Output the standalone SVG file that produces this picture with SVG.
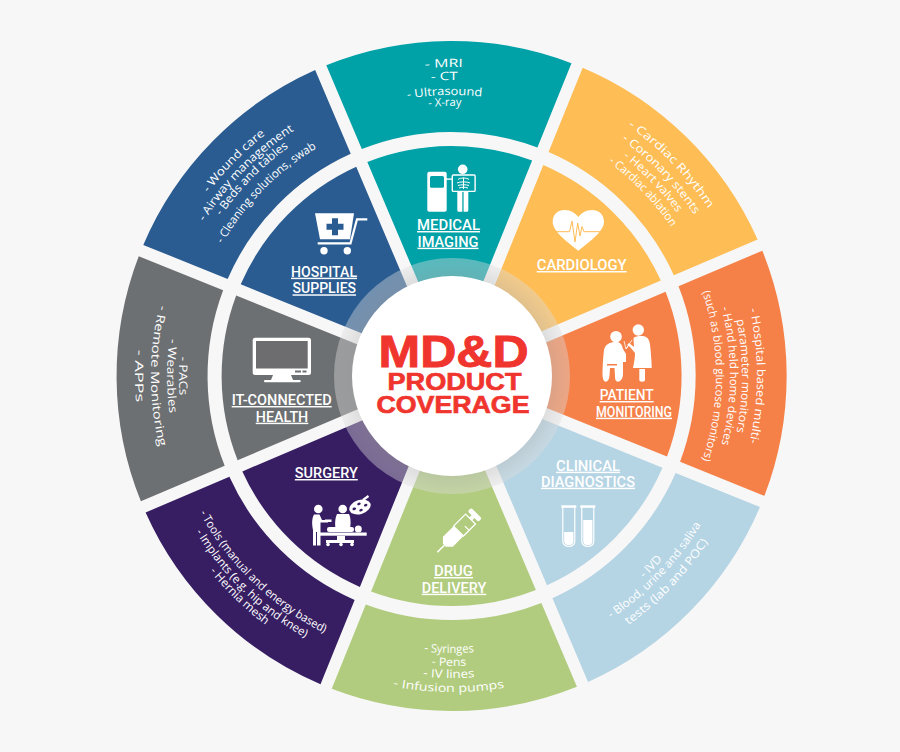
<svg xmlns="http://www.w3.org/2000/svg" width="900" height="752" viewBox="0 0 900 752">
<style>
.o{font-family:"Open Sans","Noto Sans",sans-serif;font-size:11.5px;fill:#fff;text-anchor:middle}
.t{font-family:"Roboto","Liberation Sans",sans-serif;font-weight:500;font-size:14.5px;fill:#fff;text-anchor:middle;text-decoration:underline;text-decoration-color:rgba(255,255,255,.65);text-decoration-thickness:1.6px;text-underline-offset:2px}
.c{font-family:"Liberation Sans",Arial,sans-serif;font-weight:700;fill:#f0352e;stroke:#f0352e;text-anchor:middle}
.w{fill:#fff}
</style>
<defs>
<path id="ow" d="M-122.6,-311.8A335,335 0 0 1 122.6,-311.8L87.8,-227.7A244,244 0 0 0 -87.8,-227.7Z"/>
<path id="iw" d="M-82.4,-214.7A230,230 0 0 1 82.4,-214.7L30.7,-89.9A95,95 0 0 0 -30.7,-89.9Z"/>
<radialGradient id="rg" gradientUnits="userSpaceOnUse" cx="452" cy="376" r="118">
<stop offset=".84" stop-color="#c2c2c2" stop-opacity=".5"/>
<stop offset="1" stop-color="#dedede" stop-opacity=".4"/>
</radialGradient>
<path id="a309" d="M-309,0A309,309 0 0 1 309,0"/><path id="a296" d="M-296,0A296,296 0 0 1 296,0"/><path id="a281" d="M-281,0A281,281 0 0 1 281,0"/><path id="a270" d="M-270,0A270,270 0 0 1 270,0"/>
<path id="a306" d="M-306,0A306,306 0 0 1 306,0"/><path id="a291" d="M-291,0A291,291 0 0 1 291,0"/>
<path id="a290" d="M-290,0A290,290 0 0 1 290,0"/><path id="a278" d="M-278,0A278,278 0 0 1 278,0"/><path id="a264" d="M-264,0A264,264 0 0 1 264,0"/>
<path id="a305" d="M-305,0A305,305 0 0 1 305,0"/><path id="a292" d="M-292,0A292,292 0 0 1 292,0"/><path id="a265" d="M-265,0A265,265 0 0 1 265,0"/>
<path id="b279" d="M-279,0A279,279 0 0 0 279,0"/><path id="b290" d="M-290,0A290,290 0 0 0 290,0"/><path id="b305" d="M-305,0A305,305 0 0 0 305,0"/>
<path id="b277" d="M-277,0A277,277 0 0 0 277,0"/><path id="b302" d="M-302,0A302,302 0 0 0 302,0"/><path id="b316" d="M-316,0A316,316 0 0 0 316,0"/>
<path id="b287" d="M-287,0A287,287 0 0 0 287,0"/><path id="b300" d="M-300,0A300,300 0 0 0 300,0"/><path id="b311" d="M-311,0A311,311 0 0 0 311,0"/>
<path id="b273" d="M-273,0A273,273 0 0 0 273,0"/><path id="b285" d="M-285,0A285,285 0 0 0 285,0"/><path id="b301" d="M-301,0A301,301 0 0 0 301,0"/><path id="b317" d="M-317,0A317,317 0 0 0 317,0"/>
</defs>
<rect width="900" height="752" fill="#f7f7f7"/>

<g id="medical-imaging" fill="#00a1a7">
<use href="#ow" transform="translate(451.6,376) rotate(-0.5)"/>
<use href="#iw" transform="translate(451.6,376) rotate(-0.5)"/>
<text class="o" transform="translate(452,376) rotate(-1.5)"><textPath href="#a309" startOffset="50%" textLength="38" lengthAdjust="spacingAndGlyphs">- MRI</textPath></text>
<text class="o" transform="translate(452,376) rotate(-1.5)"><textPath href="#a296" startOffset="50%" textLength="27" lengthAdjust="spacingAndGlyphs">- CT</textPath></text>
<text class="o" transform="translate(452,376) rotate(-1.5)"><textPath href="#a281" startOffset="50%" textLength="75" lengthAdjust="spacingAndGlyphs">- Ultrasound</textPath></text>
<text class="o" transform="translate(452,376) rotate(-1.5)"><textPath href="#a270" startOffset="50%" textLength="33" lengthAdjust="spacingAndGlyphs">- X-ray</textPath></text>
<g class="w">
<rect x="427.3" y="171.7" width="19.4" height="40" rx="2"/>
<rect x="430" y="176" width="14" height="11.7" rx="1.5" fill="#00a1a7"/>
<rect x="446" y="178.4" width="6" height="1.4"/>
<circle cx="462.7" cy="169.3" r="4.8"/>
<rect x="452.3" y="175" width="22.8" height="16.4" rx="1" fill="none" stroke="#fff" stroke-width="1.4"/>
<path d="M457.3,192H462.3V211.7H458.8a1.5,1.5 0 0 1 -1.5,-1.5ZM463.6,192H468.3V210.2a1.5,1.5 0 0 1 -1.5,1.5H463.6Z"/>
<path d="M463.5,177.5V189M458,179.5c2,-2 9,-2 11,0M457,183c3,-1.5 10,-1.5 13,0M458,185.5c3,-1 8,-1 11,0M459,188c3,-1 6,-1 9,0" fill="none" stroke="#fff" stroke-width="1"/>
</g>
<text class="t" x="448.5" y="230" textLength="63" lengthAdjust="spacingAndGlyphs">MEDICAL</text>
<text class="t" x="448" y="246.7" textLength="61" lengthAdjust="spacingAndGlyphs">IMAGING</text>
</g>

<g id="cardiology" fill="#febd55">
<use href="#ow" transform="translate(451.6,376) rotate(44.5)"/>
<use href="#iw" transform="translate(451.6,376) rotate(44.5)"/>
<text class="o" transform="translate(452,376) rotate(46)"><textPath href="#a306" startOffset="50%" textLength="116" lengthAdjust="spacingAndGlyphs">- Cardiac Rhythm</textPath></text>
<text class="o" transform="translate(452,376) rotate(46)"><textPath href="#a291" startOffset="50%" textLength="105" lengthAdjust="spacingAndGlyphs">- Coronary stents</textPath></text>
<text class="o" transform="translate(452,376) rotate(46)"><textPath href="#a278" startOffset="50%" textLength="78" lengthAdjust="spacingAndGlyphs">- Heart valves</textPath></text>
<text class="o" transform="translate(452,376) rotate(46)"><textPath href="#a265" startOffset="50%" textLength="91" lengthAdjust="spacingAndGlyphs">- Cardiac ablation</textPath></text>
<path class="w" d="M578.3,250.7C570,244 552.7,232 552.7,222C552.7,214 558,210 564.5,210C571,210 575.8,213.5 578.3,217C580.8,213.5 585.6,210 592,210C598.6,210 604,214 604,222C604,232 586.6,244 578.3,250.7Z"/>
<path d="M552.7,231.7H569.5L572,221L575,242L577.7,223L580,236L582,226.5L584,231.7H604" fill="none" stroke="#febd55" stroke-width="1"/>
<text class="t" x="581.7" y="270" textLength="90" lengthAdjust="spacingAndGlyphs">CARDIOLOGY</text>
</g>

<g id="patient-monitoring" fill="#f58048">
<use href="#ow" transform="translate(451.6,376) rotate(89.5)"/>
<use href="#iw" transform="translate(451.6,376) rotate(89.5)"/>
<text class="o" transform="translate(452,376) rotate(90)"><textPath href="#a305" startOffset="50%" textLength="135" lengthAdjust="spacingAndGlyphs">- Hospital based multi-</textPath></text>
<text class="o" transform="translate(452,376) rotate(90)"><textPath href="#a290" startOffset="50%" textLength="113" lengthAdjust="spacingAndGlyphs">parameter monitors</textPath></text>
<text class="o" transform="translate(452,376) rotate(90)"><textPath href="#a278" startOffset="50%" textLength="138" lengthAdjust="spacingAndGlyphs">- Hand held home devices</textPath></text>
<text class="o" transform="translate(452,376) rotate(90)"><textPath href="#a264" startOffset="50%" textLength="171" lengthAdjust="spacingAndGlyphs">(such as blood glucose monitors)</textPath></text>
<g class="w">
<circle cx="616" cy="336.7" r="5.8"/>
<path d="M604,350C605,344 611,341.5 617,342C621,342.5 622,345 623,349L626,354V362H623V374C623,379 620,381.7 618,381.7C615.5,381.7 615,379 615,376L614.5,368H610L609.5,376C609,380 607.5,381.7 606,381.7C603,381.7 602.3,377 602.5,372C602.7,366 603,358 604,350Z"/>
<rect x="607" y="364" width="10" height="1.5" fill="#f58048"/>
<circle cx="638.3" cy="330" r="5.7"/>
<path d="M633.5,338C636,336 641,335.5 645,336.5C649,338 650,342 650.5,349C651,355 651.7,362 651.7,368H633C634,363 635,358 635,353L630,347L627,345L629,343L634,347Z"/>
<path d="M639.3,369H645V379.5a2.8,2.2 0 0 1 -5.7,0Z"/>
<path d="M624,341L626,349L628,346M632,340L626,349" fill="none" stroke="#fff" stroke-width=".8"/>
</g>
<text class="t" x="626.7" y="400" textLength="54" lengthAdjust="spacingAndGlyphs">PATIENT</text>
<text class="t" x="634" y="416.7" textLength="76" lengthAdjust="spacingAndGlyphs">MONITORING</text>
</g>

<g id="clinical-diagnostics" fill="#b5d4e4">
<use href="#ow" transform="translate(451.6,376) rotate(134.5)"/>
<use href="#iw" transform="translate(451.6,376) rotate(134.5)"/>
<text class="o" transform="translate(452,376) rotate(-46.2)"><textPath href="#b279" startOffset="50%" textLength="27" lengthAdjust="spacingAndGlyphs">- IVD</textPath></text>
<text class="o" transform="translate(452,376) rotate(-46.2)"><textPath href="#b290" startOffset="50%" textLength="131" lengthAdjust="spacingAndGlyphs">- Blood, urine and saliva</textPath></text>
<text class="o" transform="translate(452,376) rotate(-46.2)"><textPath href="#b305" startOffset="50%" textLength="116" lengthAdjust="spacingAndGlyphs">tests (lab and POC)</textPath></text>
<g>
<path d="M562.8,506.5V541.5a6,5 0 0 0 12,0V506.5M581.8,506.5V541.5a6,5 0 0 0 12,0V506.5" fill="none" stroke="#fff" stroke-width="1.2"/>
<rect x="561.3" y="505.3" width="15" height="2.5" class="w"/>
<rect x="580.3" y="505.3" width="15" height="2.5" class="w"/>
<path class="w" d="M564.2,532H573.4V541.5a4.6,3.8 0 0 1 -9.2,0ZM583.2,520H592.4V541.5a4.6,3.8 0 0 1 -9.2,0Z"/>
</g>
<text class="t" x="588" y="470.7" textLength="64" lengthAdjust="spacingAndGlyphs">CLINICAL</text>
<text class="t" x="588" y="486.7" textLength="94" lengthAdjust="spacingAndGlyphs">DIAGNOSTICS</text>
</g>

<g id="drug-delivery" fill="#b1cc7e">
<use href="#ow" transform="translate(451.6,376) rotate(179.5)"/>
<use href="#iw" transform="translate(451.6,376) rotate(179.5)"/>
<text class="o" transform="translate(452,376) rotate(0.6)"><textPath href="#b277" startOffset="50%" textLength="50" lengthAdjust="spacingAndGlyphs">- Syringes</textPath></text>
<text class="o" transform="translate(452,376) rotate(0.6)"><textPath href="#b290" startOffset="50%" textLength="35" lengthAdjust="spacingAndGlyphs">- Pens</textPath></text>
<text class="o" transform="translate(452,376) rotate(0.6)"><textPath href="#b302" startOffset="50%" textLength="52" lengthAdjust="spacingAndGlyphs">- IV lines</textPath></text>
<text class="o" transform="translate(452,376) rotate(0.6)"><textPath href="#b316" startOffset="50%" textLength="112" lengthAdjust="spacingAndGlyphs">- Infusion pumps</textPath></text>
<g transform="translate(437.3,552.3) rotate(-45)">
<rect x="0" y="-.8" width="10" height="1.6" class="w"/>
<path class="w" d="M10,-2L15,-7H30V7H15L10,2Z"/>
<path d="M30,-7H47V7H30ZM38,7V1" fill="none" stroke="#fff" stroke-width="1.3"/>
<rect x="47" y="-2" width="4.5" height="4" class="w"/>
<rect x="50.5" y="-7.5" width="5" height="15" rx="2" class="w"/>
</g>
<text class="t" x="453.5" y="576" textLength="39" lengthAdjust="spacingAndGlyphs">DRUG</text>
<text class="t" x="454" y="592.7" textLength="64.5" lengthAdjust="spacingAndGlyphs">DELIVERY</text>
</g>

<g id="surgery" fill="#371e63">
<use href="#ow" transform="translate(451.6,376) rotate(224.5)"/>
<use href="#iw" transform="translate(451.6,376) rotate(224.5)"/>
<text class="o" transform="translate(452,376) rotate(44)"><textPath href="#b287" startOffset="50%" textLength="176" lengthAdjust="spacingAndGlyphs">- Tools (manual and energy based)</textPath></text>
<text class="o" transform="translate(452,376) rotate(44)"><textPath href="#b300" startOffset="50%" textLength="154" lengthAdjust="spacingAndGlyphs">- Implants (e.g. hip and knee)</textPath></text>
<text class="o" transform="translate(452,376) rotate(44)"><textPath href="#b311" startOffset="50%" textLength="78" lengthAdjust="spacingAndGlyphs">- Hernia mesh</textPath></text>
<g>
<g transform="rotate(-18 360 507)"><ellipse cx="360" cy="507" rx="11" ry="7" class="w"/>
<ellipse cx="354" cy="507" rx="1.8" ry="1.3"/><ellipse cx="360" cy="503.7" rx="1.8" ry="1.3"/><ellipse cx="366" cy="507" rx="1.8" ry="1.3"/><ellipse cx="360" cy="510.3" rx="1.8" ry="1.3"/></g>
<path d="M363,500L368.5,496" stroke="#fff" stroke-width="2.2" fill="none"/>
<circle cx="318.3" cy="509" r="4.3" class="w"/>
<path class="w" d="M314,514.5H319.5L322,520H328V522.5H320.5V545.5H317V532H316V545.5H313V530C312,525 311.5,519 314,514.5Z"/>
<rect x="325" y="519.5" width="6.5" height="2.5" class="w"/>
<circle cx="342.7" cy="509" r="4.3" class="w"/>
<path class="w" d="M337,514H349C351,518 351,525 349.5,531H336C334.5,525 335,518 337,514Z"/>
<rect x="327" y="527" width="27" height="5" rx="2.2" class="w"/>
<circle cx="358.3" cy="529" r="3.5" class="w"/>
<rect x="320" y="532.5" width="46.7" height="3.2" class="w"/>
<path d="M337,536H345V540H354V543H326V540H337Z" class="w"/>
<circle cx="328" cy="544.5" r="1.8" class="w"/><circle cx="341" cy="544.5" r="1.8" class="w"/><circle cx="352" cy="544.5" r="1.8" class="w"/>
</g>
<text class="t" x="326.3" y="478" textLength="63" lengthAdjust="spacingAndGlyphs">SURGERY</text>
</g>

<g id="it-connected-health" fill="#6d7072">
<use href="#ow" transform="translate(451.6,376) rotate(269.5)"/>
<use href="#iw" transform="translate(451.6,376) rotate(269.5)"/>
<text class="o" transform="translate(452,376) rotate(90)"><textPath href="#b273" startOffset="50%" textLength="39" lengthAdjust="spacingAndGlyphs">- PACs</textPath></text>
<text class="o" transform="translate(452,376) rotate(90)"><textPath href="#b285" startOffset="50%" textLength="75" lengthAdjust="spacingAndGlyphs">- Wearables</textPath></text>
<text class="o" transform="translate(452,376) rotate(90)"><textPath href="#b301" startOffset="50%" textLength="143" lengthAdjust="spacingAndGlyphs">- Remote Monitoring</textPath></text>
<text class="o" transform="translate(452,376) rotate(90)"><textPath href="#b317" startOffset="50%" textLength="53" lengthAdjust="spacingAndGlyphs">- APPs</textPath></text>
<g>
<rect x="252.7" y="337.7" width="58.3" height="37.3" rx="2.5" class="w"/>
<rect x="256" y="341" width="51.7" height="27.5" fill="#6d6d6f"/>
<rect x="295" y="370.5" width="6" height="2"/><rect x="302.5" y="370.5" width="4" height="2"/>
<path class="w" d="M273,375H291L293,380H271Z"/>
<rect x="264" y="380" width="36.7" height="2.2" rx="1" class="w"/>
</g>
<text class="t" x="281.7" y="405" textLength="100" lengthAdjust="spacingAndGlyphs">IT-CONNECTED</text>
<text class="t" x="282" y="421.7" textLength="52.5" lengthAdjust="spacingAndGlyphs">HEALTH</text>
</g>

<g id="hospital-supplies" fill="#2a5c91">
<use href="#ow" transform="translate(451.6,376) rotate(314.5)"/>
<use href="#iw" transform="translate(451.6,376) rotate(314.5)"/>
<text class="o" transform="translate(452,376) rotate(314.6)"><textPath href="#a305" startOffset="50%" textLength="82" lengthAdjust="spacingAndGlyphs">- Wound care</textPath></text>
<text class="o" transform="translate(452,376) rotate(314.6)"><textPath href="#a292" startOffset="50%" textLength="129" lengthAdjust="spacingAndGlyphs">- Airway management</textPath></text>
<text class="o" transform="translate(452,376) rotate(314.6)"><textPath href="#a281" startOffset="50%" textLength="97" lengthAdjust="spacingAndGlyphs">- Beds and tables</textPath></text>
<text class="o" transform="translate(452,376) rotate(314.6)"><textPath href="#a265" startOffset="50%" textLength="136" lengthAdjust="spacingAndGlyphs">- Cleaning solutions, swab</textPath></text>
<g>
<path class="w" d="M315,213.3H354L350,239.3H320Z"/>
<path d="M332,218.2H338V223.7H343.5V229.7H338V235.2H332V229.7H326.5V223.7H332Z"/>
<path d="M367.3,219.3H357L350.5,243.3H317.7" fill="none" stroke="#fff" stroke-width="2.2"/>
<circle cx="324" cy="250.7" r="3.7" class="w"/><circle cx="347.3" cy="250.7" r="3.7" class="w"/>
</g>
<text class="t" x="324" y="276.7" textLength="66" lengthAdjust="spacingAndGlyphs">HOSPITAL</text>
<text class="t" x="324.3" y="293.3" textLength="63.5" lengthAdjust="spacingAndGlyphs">SUPPLIES</text>
</g>

<g id="center">
<circle cx="452" cy="376" r="118" fill="url(#rg)"/>
<circle cx="452" cy="376" r="100" fill="#fff"/>
<text class="c" x="453.5" y="367" font-size="44" stroke-width=".9" textLength="150" lengthAdjust="spacingAndGlyphs">MD&amp;D</text>
<text class="c" x="454.5" y="390" font-size="24" stroke-width=".7" textLength="134" lengthAdjust="spacingAndGlyphs">PRODUCT</text>
<text class="c" x="453" y="413" font-size="24" stroke-width=".7" textLength="153" lengthAdjust="spacingAndGlyphs">COVERAGE</text>
</g>
</svg>
